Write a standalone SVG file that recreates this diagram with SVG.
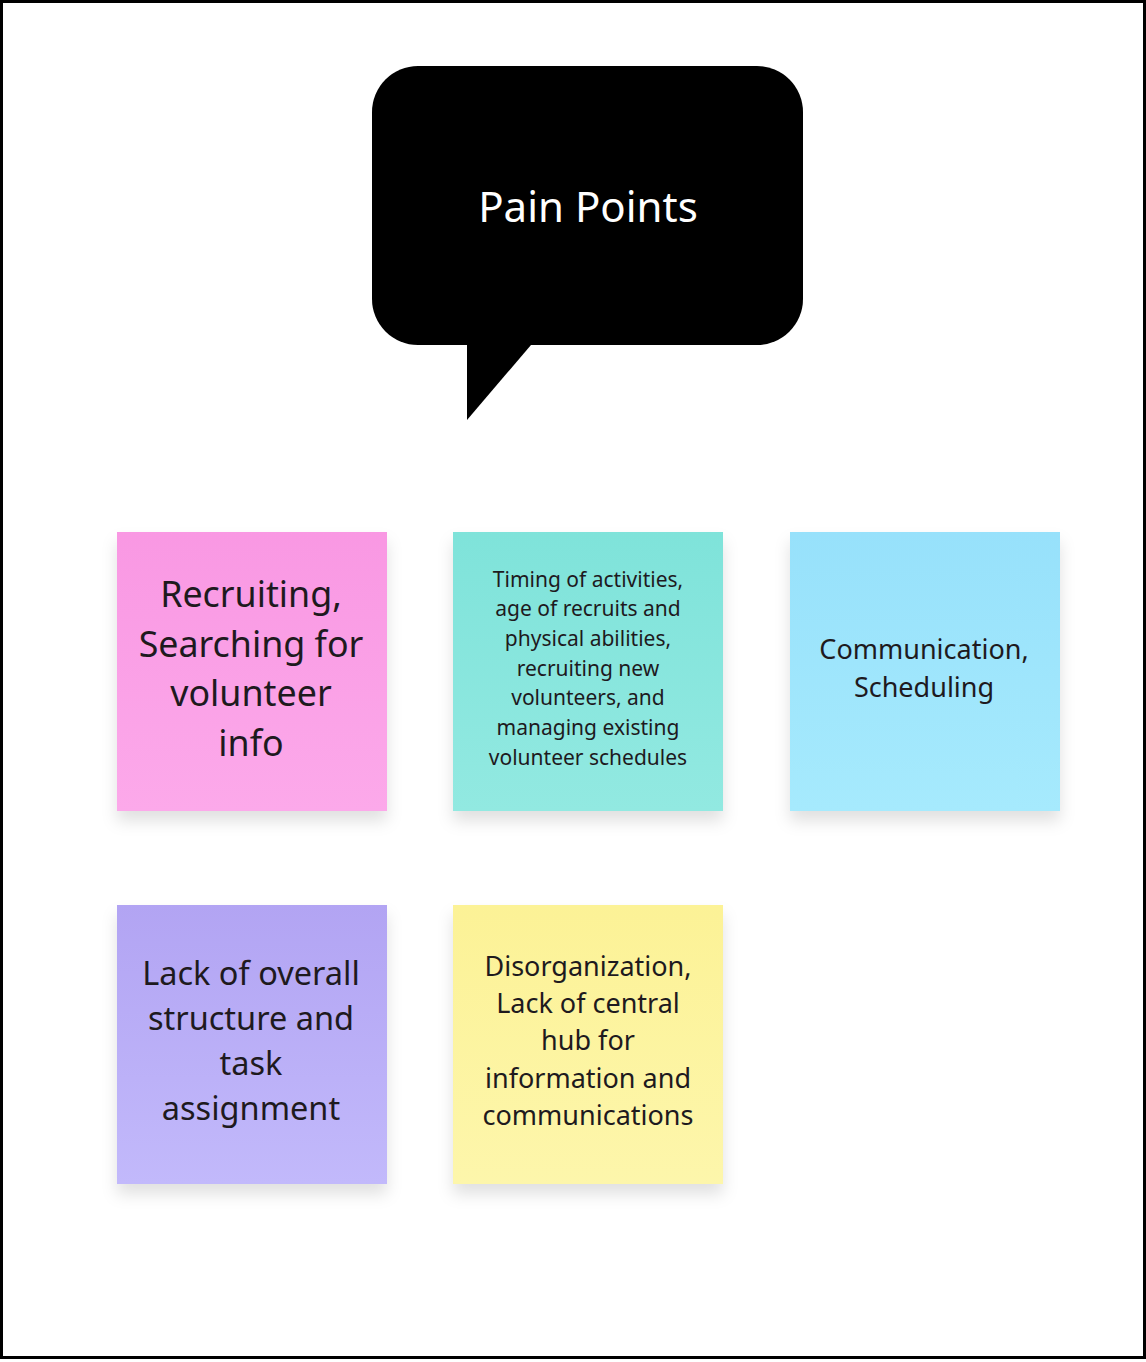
<svg xmlns="http://www.w3.org/2000/svg" width="1146" height="1362" viewBox="0 0 1146 1362">
<defs>
<style>
.t{font-family:"Noto Sans","Open Sans","DejaVu Sans",sans-serif;fill:#1e1a1e;text-anchor:middle}
.title{font-family:"Noto Sans","Open Sans","DejaVu Sans",sans-serif;fill:#ffffff;text-anchor:middle;font-size:42px}
</style>
<filter id="sh" x="-20%" y="-20%" width="140%" height="150%">
<feDropShadow dx="0" dy="10" stdDeviation="8" flood-color="#000" flood-opacity="0.12"/>
</filter>
<linearGradient id="gPink" x1="0" y1="0" x2="0" y2="1"><stop offset="0" stop-color="#f998e3"/><stop offset="1" stop-color="#fca9ea"/></linearGradient>
<linearGradient id="gTeal" x1="0" y1="0" x2="0" y2="1"><stop offset="0" stop-color="#7fe3da"/><stop offset="1" stop-color="#92e9e1"/></linearGradient>
<linearGradient id="gBlue" x1="0" y1="0" x2="0" y2="1"><stop offset="0" stop-color="#97e1fb"/><stop offset="1" stop-color="#a6eafd"/></linearGradient>
<linearGradient id="gPurple" x1="0" y1="0" x2="0" y2="1"><stop offset="0" stop-color="#b2a4f3"/><stop offset="1" stop-color="#c2b9fb"/></linearGradient>
<linearGradient id="gYellow" x1="0" y1="0" x2="0" y2="1"><stop offset="0" stop-color="#fcf296"/><stop offset="1" stop-color="#fdf6ab"/></linearGradient>
</defs>
<rect x="0" y="0" width="1146" height="1362" fill="#ffffff"/>
<rect x="1.5" y="1.5" width="1143" height="1356" fill="none" stroke="#000" stroke-width="3"/>

<g id="pain-points">
<rect x="372" y="66" width="431" height="279" rx="46" ry="46" fill="#000"/>
<polygon points="467,340 531,340 531,345 467,420" fill="#000"/>
<text class="title" x="588" y="222">Pain Points</text>
</g>

<g id="connectors"></g>

<g id="sticky-recruiting">
<rect x="117" y="532" width="270" height="279" fill="url(#gPink)" filter="url(#sh)"/>
<text class="t" font-size="35.8" x="252"><tspan x="251" y="607">Recruiting,</tspan><tspan x="251" y="656.5">Searching for</tspan><tspan x="251" y="706">volunteer</tspan><tspan x="251" y="755.5">info</tspan></text>
</g>

<g id="sticky-timing">
<rect x="453" y="532" width="270" height="279" fill="url(#gTeal)" filter="url(#sh)"/>
<text class="t" font-size="21" x="588"><tspan x="588" y="586.5">Timing of activities,</tspan><tspan x="588" y="616.2">age of recruits and</tspan><tspan x="588" y="645.9">physical abilities,</tspan><tspan x="588" y="675.6">recruiting new</tspan><tspan x="588" y="705.3">volunteers, and</tspan><tspan x="588" y="735">managing existing</tspan><tspan x="588" y="764.7">volunteer schedules</tspan></text>
</g>

<g id="sticky-communication">
<rect x="790" y="532" width="270" height="279" fill="url(#gBlue)" filter="url(#sh)"/>
<text class="t" font-size="27" x="925"><tspan x="924" y="659">Communication,</tspan><tspan x="924" y="696.5">Scheduling</tspan></text>
</g>

<g id="sticky-structure">
<rect x="117" y="905" width="270" height="279" fill="url(#gPurple)" filter="url(#sh)"/>
<text class="t" font-size="32.5" x="252"><tspan x="251" y="985">Lack of overall</tspan><tspan x="251" y="1030">structure and</tspan><tspan x="251" y="1075">task</tspan><tspan x="251" y="1120">assignment</tspan></text>
</g>

<g id="sticky-disorganization">
<rect x="453" y="905" width="270" height="279" fill="url(#gYellow)" filter="url(#sh)"/>
<text class="t" font-size="27" x="588"><tspan x="588" y="976">Disorganization,</tspan><tspan x="588" y="1013">Lack of central</tspan><tspan x="588" y="1050">hub for</tspan><tspan x="588" y="1087.5">information and</tspan><tspan x="588" y="1124.5">communications</tspan></text>
</g>
</svg>
